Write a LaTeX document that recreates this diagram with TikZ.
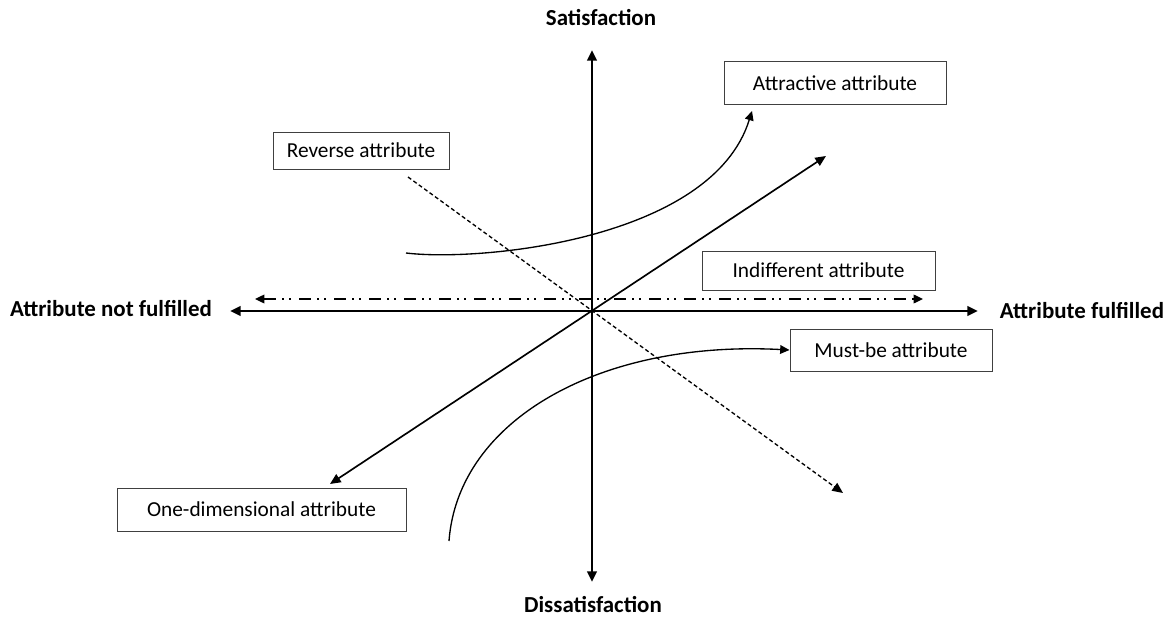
\documentclass[tikz,border=0pt]{standalone}
\usepackage{fontspec}
\setmainfont{Carlito}
\usetikzlibrary{arrows.meta}
\usetikzlibrary{positioning}

\tikzset{
    attrbox/.style={draw=black!75,line width=0.75pt,inner sep=2pt},
    axislabel/.style={font=\fontsize{17.2}{20}\selectfont\bfseries}
}

\begin{document}
\begin{tikzpicture}[x=0.75pt,y=-0.75pt,font=\fontsize{16}{19}\selectfont]

            % \draw [help lines,step=50] (0,0) grid (1167,617);

            \useasboundingbox (0,0) rectangle (1167,617);

            \path   (592,50) coordinate (top)
                    (592,582) coordinate (bottom)
                    (230,311) coordinate (left)
                    (978,311) coordinate (right)

                    (255,299) coordinate (indl)
                    (923,299) coordinate (indr)

                    (330,484) coordinate (onel)
                    (826,156) coordinate (oner)

                    (408,177) coordinate (revs)
                    (843,493) coordinate (reve)

                    (406,253) coordinate (atts)
                    (752,111) coordinate (atte)

                    (449,541) coordinate (muss);

            \path   (601,18) node (sat) [axislabel] {Satisfaction}
                    (593,605) node (dis) [axislabel] {Dissatisfaction}
                    (111,309) node (notf) [axislabel] {Attribute not fulfilled}
                    (1082,311) node (ful) [axislabel] {Attribute fulfilled}

                    (835,83) node (attr) [attrbox,minimum width=166.5pt,minimum height=31.5pt] {Attractive attribute}
                    (361,150.5) node (rev) [attrbox,minimum width=132pt,minimum height=27.75pt] {Reverse attribute}
                    (818.5,270.5) node (ind) [attrbox,minimum width=174.75pt,minimum height=29.25pt] {Indifferent attribute}
                    (891,350) node (mus) [attrbox,minimum width=151.5pt,minimum height=31.5pt] {Must-be attribute}
                    (261.5,509.5) node (one) [attrbox,minimum width=216.75pt,minimum height=32.25pt] {One-dimensional attribute};

            \draw[arrows = {Triangle[length=8pt,width=7pt]}-{Triangle[length=8pt,width=7pt]},line width=2pt] (bottom) -- (top);
            \draw[arrows = {Triangle[length=8pt,width=7pt]}-{Triangle[length=8pt,width=7pt]},line width=2pt] (left) -- (right);

            \draw[arrows = {Triangle[length=7pt,width=6.5pt]}-{Triangle[length=7pt,width=6.5pt]},line width=1pt,
                  dash pattern=on 9pt off 4.5pt on 1.5pt off 3.75pt on 1.5pt off 6pt] (indl) -- (indr);

            \draw[arrows = {Triangle[length=8pt,width=7pt]}-{Triangle[length=8pt,width=7pt]},line width=1.25pt] (onel) -- (oner);

            \draw[arrows = -{Triangle[length=8pt,width=7pt]},line width=1pt,dash pattern=on 3pt off 2pt] (revs) -- (reve);

            \draw[arrows = -{Triangle[length=7pt,width=6.5pt]},line width=1pt] (atts) .. controls (480,262) and (712,240) .. (atte);
            \draw[arrows = -{Triangle[length=7pt,width=6.5pt]},line width=1pt] (muss) .. controls (458,420) and (600,340) .. (node cs:name=mus,anchor=west);

        \end{tikzpicture}
\end{document}
